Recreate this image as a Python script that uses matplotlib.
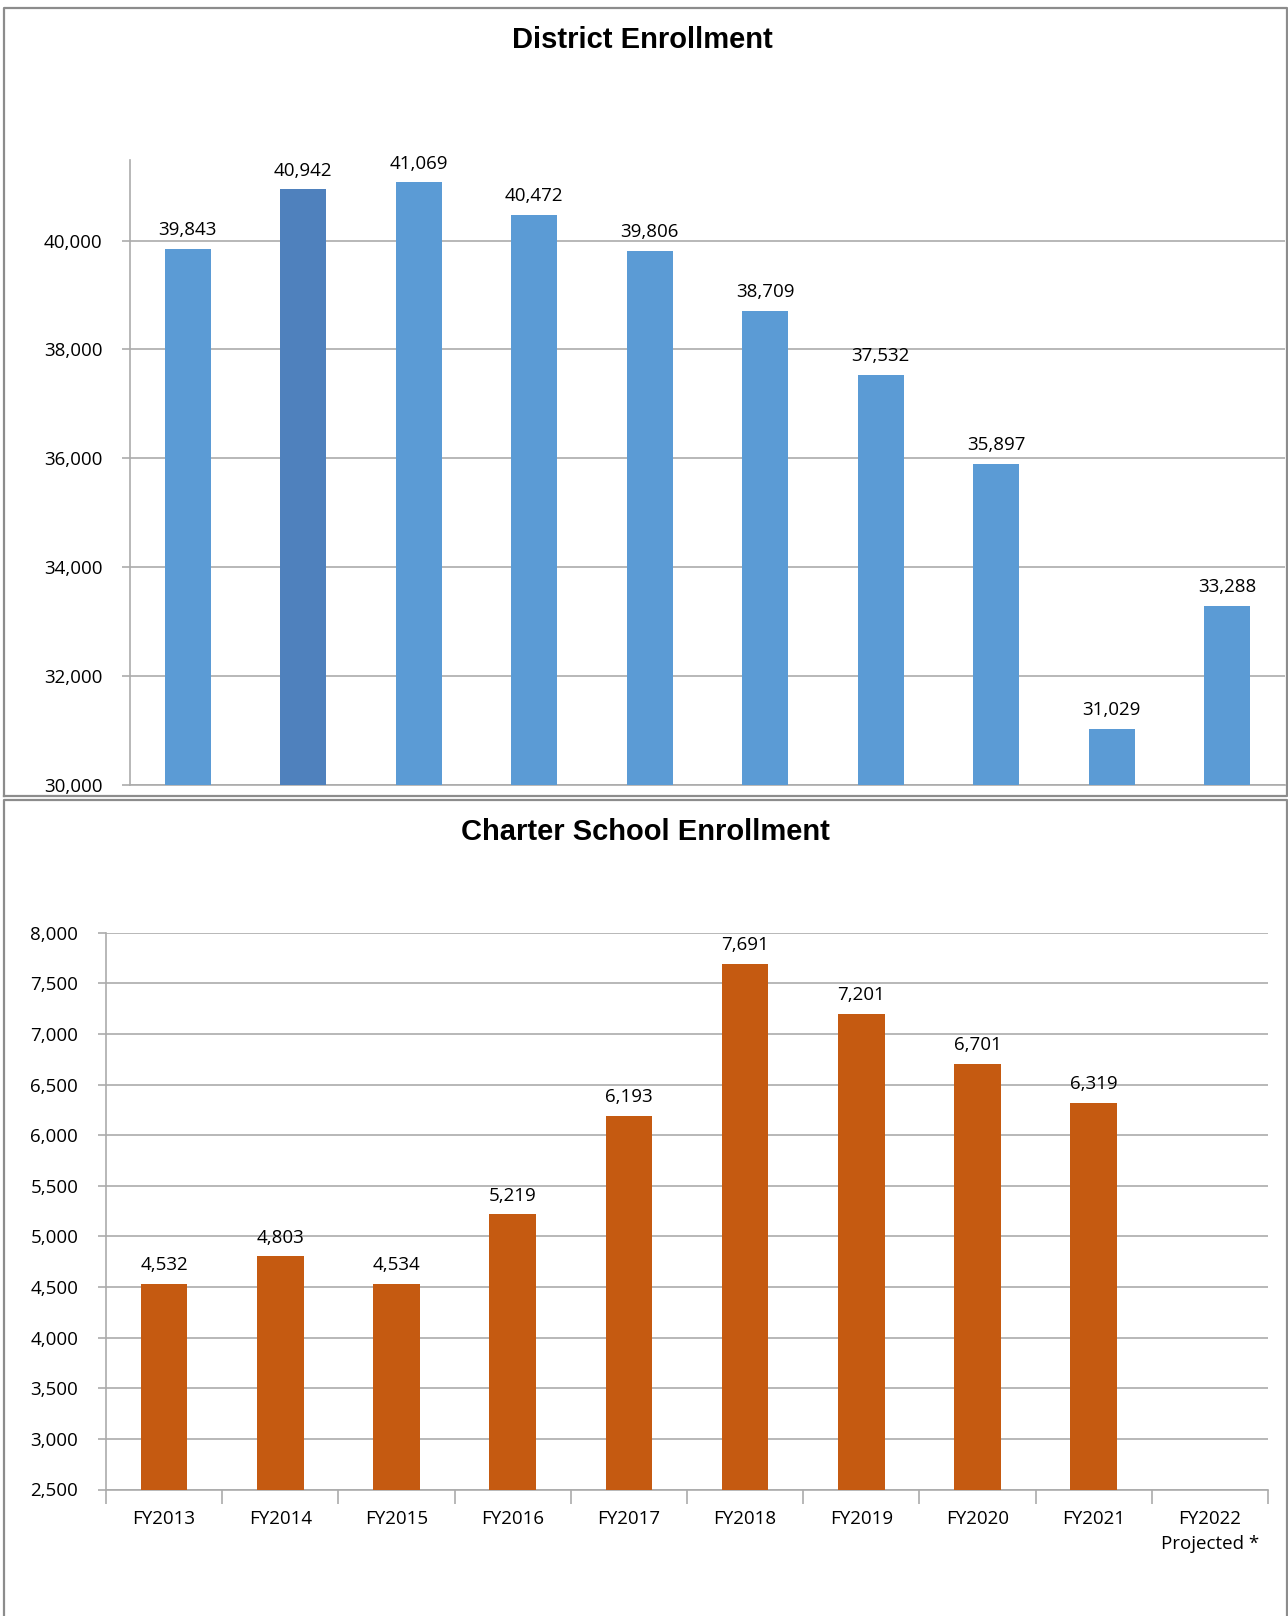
import matplotlib
matplotlib.use("Agg")
import matplotlib.pyplot as plt
from matplotlib.lines import Line2D
from matplotlib.ticker import FuncFormatter, FixedLocator

# ---- data ----
categories = ["FY2013", "FY2014", "FY2015", "FY2016", "FY2017",
              "FY2018", "FY2019", "FY2020", "FY2021", "FY2022\nProjected *"]
district_values = [39843, 40942, 41069, 40472, 39806, 38709, 37532, 35897, 31029, 33288]
charter_values = [4532, 4803, 4534, 5219, 6193, 7691, 7201, 6701, 6319, None]
district_ticks = [30000, 32000, 34000, 36000, 38000, 40000]
charter_ticks = [2500, 3000, 3500, 4000, 4500, 5000, 5500, 6000, 6500, 7000, 7500, 8000]

W, H = 1288, 1616
fig = plt.figure(figsize=(W / 100, H / 100), dpi=100)
fig.patch.set_facecolor("white")

TICKFONT = "Open Sans"
TITLEFONT = "Liberation Sans"
GRID = "#ABABAB"
BORDER = "#8C8C8C"
FS = 13.5


def ax_rect(left, right, top, bottom):
    return [left / W, 1 - bottom / H, (right - left) / W, (bottom - top) / H]


def fig_line(xs, ys, **kw):
    fig.add_artist(Line2D([x / W for x in xs], [1 - y / H for y in ys],
                          transform=fig.transFigure, **kw))


# panel borders
fig_line([4, 4, 1287, 1287, 4], [796, 8, 8, 796, 796], color=BORDER, lw=1.6)
fig_line([4, 4, 1287, 1287], [1616, 800, 800, 1616], color=BORDER, lw=1.6)

fmt = FuncFormatter(lambda v, p: f"{int(v):,}")
x = list(range(len(categories)))


def style_axes(ax, ticks, ylim):
    ax.set_xlim(-0.5, len(categories) - 0.5)
    ax.set_ylim(*ylim)
    ax.yaxis.set_major_locator(FixedLocator(ticks))
    ax.yaxis.set_major_formatter(fmt)
    ax.grid(axis="y", color=GRID, lw=1.2)
    ax.set_axisbelow(True)
    for s in ("top", "right"):
        ax.spines[s].set_visible(False)
    for s in ("left", "bottom"):
        ax.spines[s].set_color(GRID)
        ax.spines[s].set_linewidth(1.2)
    ax.tick_params(axis="y", length=6, width=1.2, color=GRID, pad=14,
                   labelsize=FS)
    for lab in ax.get_yticklabels():
        lab.set_fontfamily(TICKFONT)


# ---- District Enrollment ----
ax1 = fig.add_axes(ax_rect(130, 1285, 160, 785))
colors1 = ["#5B9BD5"] * len(district_values)
colors1[1] = "#4F81BD"
ax1.bar(x, district_values, width=0.4, color=colors1, zorder=3)
style_axes(ax1, district_ticks, (30000, 41480))
ax1.set_xticks([])
for xi, v in zip(x, district_values):
    ax1.annotate(f"{v:,}", (xi, v), xytext=(0, 7), textcoords="offset points",
                 ha="center", va="bottom", fontsize=FS, fontfamily=TICKFONT)
fig.text(642 / W, 1 - 40 / H, "District Enrollment", ha="center", va="center",
         fontsize=21, fontweight="bold", fontfamily=TITLEFONT)

# ---- Charter School Enrollment ----
ax2 = fig.add_axes(ax_rect(106, 1268, 932.7, 1489.5))
cx = [xi for xi, v in zip(x, charter_values) if v is not None]
cv = [v for v in charter_values if v is not None]
ax2.bar(cx, cv, width=0.4, color="#C55A11", zorder=3)
style_axes(ax2, charter_ticks, (2500, 8000))
ax2.set_xticks(x)
ax2.set_xticklabels(categories, fontsize=FS, fontfamily=TICKFONT,
                    linespacing=1.45)
ax2.tick_params(axis="x", which="major", length=0, pad=15)
ax2.xaxis.set_minor_locator(FixedLocator([i + 0.5 for i in range(-1, len(categories))]))
ax2.tick_params(axis="x", which="minor", length=10, width=1.2, color=GRID)
for xi, v in zip(cx, cv):
    ax2.annotate(f"{v:,}", (xi, v), xytext=(0, 7), textcoords="offset points",
                 ha="center", va="bottom", fontsize=FS, fontfamily=TICKFONT)
fig.text(645 / W, 1 - 832 / H, "Charter School Enrollment", ha="center",
         va="center", fontsize=21, fontweight="bold", fontfamily=TITLEFONT)

fig.savefig("out.png", dpi=100, facecolor="white")
